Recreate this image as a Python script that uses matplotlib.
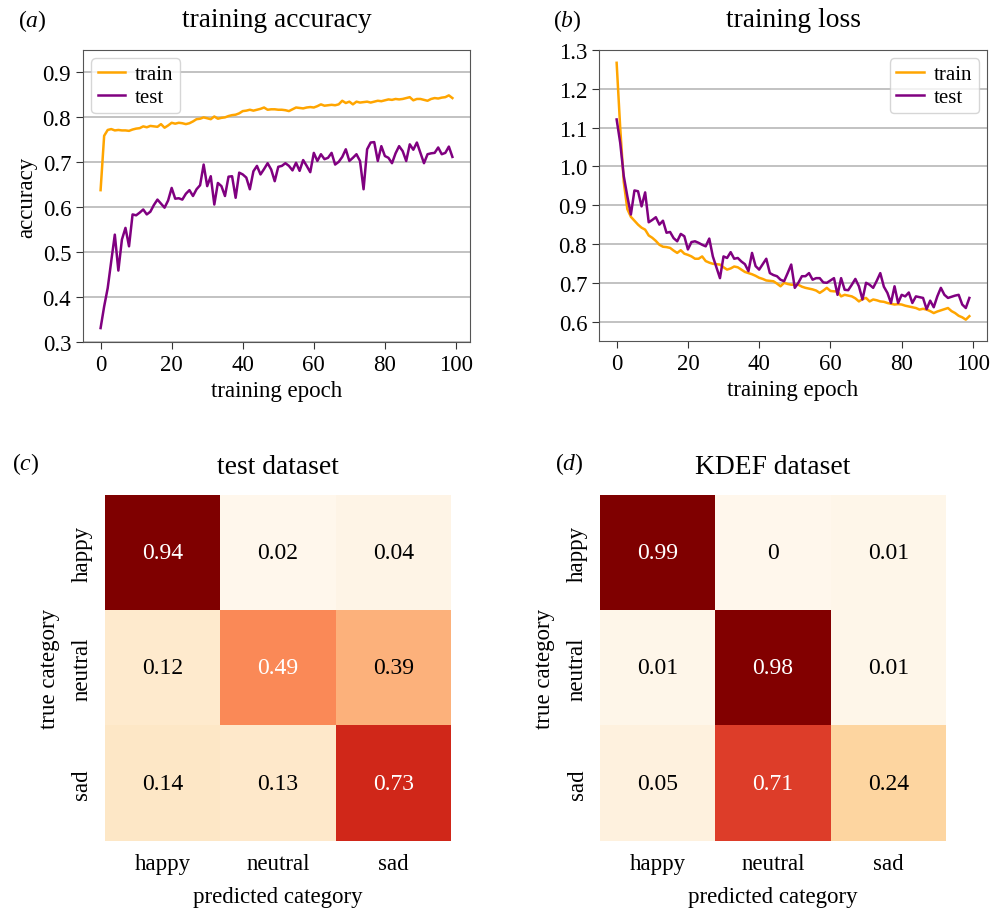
import matplotlib
matplotlib.use("Agg")
import matplotlib.pyplot as plt
import numpy as np

plt.rcParams['font.family'] = ['Liberation Serif', 'DejaVu Serif']
plt.rcParams['mathtext.fontset'] = 'custom'
plt.rcParams['mathtext.rm'] = 'Liberation Serif'
plt.rcParams['mathtext.it'] = 'Liberation Serif:italic'
plt.rcParams['font.size'] = 16.5

# training curves, one value per epoch
epochs = list(range(100))

train_acc = [0.638, 0.759, 0.772, 0.774, 0.771, 0.772, 0.771, 0.771, 0.770, 0.773,
             0.775, 0.776, 0.780, 0.778, 0.781, 0.780, 0.779, 0.785, 0.777, 0.782,
             0.788, 0.786, 0.788, 0.787, 0.785, 0.787, 0.791, 0.796, 0.797, 0.800,
             0.798, 0.796, 0.802, 0.797, 0.799, 0.800, 0.803, 0.805, 0.806, 0.809,
             0.814, 0.815, 0.817, 0.815, 0.817, 0.819, 0.822, 0.817, 0.818, 0.818,
             0.817, 0.817, 0.816, 0.814, 0.818, 0.822, 0.821, 0.820, 0.822, 0.823,
             0.822, 0.825, 0.829, 0.826, 0.827, 0.828, 0.827, 0.829, 0.837, 0.832,
             0.835, 0.829, 0.835, 0.833, 0.834, 0.835, 0.833, 0.835, 0.837, 0.836,
             0.838, 0.840, 0.839, 0.841, 0.840, 0.841, 0.843, 0.845, 0.838, 0.841,
             0.841, 0.839, 0.837, 0.841, 0.843, 0.842, 0.844, 0.845, 0.849, 0.843]

test_acc = [0.331, 0.379, 0.420, 0.480, 0.539, 0.459, 0.528, 0.554, 0.513, 0.584,
            0.582, 0.588, 0.595, 0.584, 0.590, 0.605, 0.617, 0.608, 0.599, 0.615,
            0.643, 0.619, 0.620, 0.617, 0.630, 0.638, 0.625, 0.640, 0.649, 0.695,
            0.647, 0.669, 0.606, 0.654, 0.647, 0.625, 0.668, 0.669, 0.621, 0.677,
            0.673, 0.666, 0.640, 0.680, 0.692, 0.673, 0.685, 0.698, 0.684, 0.658,
            0.690, 0.692, 0.698, 0.692, 0.682, 0.699, 0.681, 0.705, 0.692, 0.678,
            0.721, 0.703, 0.718, 0.707, 0.710, 0.721, 0.695, 0.701, 0.712, 0.729,
            0.703, 0.710, 0.718, 0.703, 0.640, 0.729, 0.744, 0.745, 0.703, 0.736,
            0.714, 0.710, 0.698, 0.720, 0.736, 0.725, 0.703, 0.740, 0.728, 0.744,
            0.721, 0.698, 0.718, 0.720, 0.721, 0.733, 0.718, 0.721, 0.735, 0.712]

train_loss = [1.267, 1.100, 0.960, 0.890, 0.870, 0.860, 0.850, 0.842, 0.837, 0.822,
              0.816, 0.808, 0.798, 0.793, 0.792, 0.790, 0.783, 0.777, 0.784, 0.775,
              0.772, 0.768, 0.762, 0.762, 0.768, 0.756, 0.752, 0.749, 0.748, 0.747,
              0.740, 0.734, 0.737, 0.742, 0.740, 0.734, 0.728, 0.725, 0.722, 0.718,
              0.713, 0.710, 0.706, 0.705, 0.704, 0.698, 0.691, 0.700, 0.697, 0.695,
              0.695, 0.695, 0.690, 0.687, 0.685, 0.683, 0.680, 0.674, 0.680, 0.687,
              0.679, 0.678, 0.678, 0.665, 0.669, 0.667, 0.665, 0.660, 0.652, 0.658,
              0.661, 0.652, 0.657, 0.655, 0.652, 0.651, 0.648, 0.646, 0.644, 0.645,
              0.644, 0.641, 0.639, 0.637, 0.635, 0.631, 0.633, 0.631, 0.627, 0.622,
              0.626, 0.629, 0.632, 0.635, 0.627, 0.622, 0.615, 0.611, 0.605, 0.614]

test_loss = [1.121, 1.061, 0.975, 0.923, 0.876, 0.938, 0.936, 0.897, 0.933, 0.856,
             0.862, 0.869, 0.850, 0.860, 0.829, 0.831, 0.815, 0.807, 0.826, 0.820,
             0.786, 0.805, 0.807, 0.803, 0.798, 0.794, 0.814, 0.768, 0.740, 0.712,
             0.768, 0.764, 0.779, 0.762, 0.764, 0.755, 0.748, 0.730, 0.777, 0.743,
             0.734, 0.748, 0.762, 0.725, 0.720, 0.717, 0.708, 0.704, 0.725, 0.747,
             0.687, 0.700, 0.717, 0.717, 0.725, 0.708, 0.712, 0.712, 0.701, 0.700,
             0.706, 0.712, 0.669, 0.712, 0.682, 0.681, 0.695, 0.710, 0.691, 0.657,
             0.700, 0.695, 0.687, 0.705, 0.725, 0.690, 0.674, 0.648, 0.691, 0.648,
             0.669, 0.665, 0.675, 0.648, 0.665, 0.663, 0.661, 0.632, 0.654, 0.637,
             0.665, 0.687, 0.669, 0.661, 0.664, 0.667, 0.669, 0.644, 0.635, 0.661]

# confusion matrices (rows: true, cols: predicted)
categories = ['happy', 'neutral', 'sad']
cm_test = [[0.94, 0.02, 0.04],
           [0.12, 0.49, 0.39],
           [0.14, 0.13, 0.73]]
cm_kdef = [[0.99, 0.00, 0.01],
           [0.01, 0.98, 0.01],
           [0.05, 0.71, 0.24]]

W, H = 992, 912
fig = plt.figure(figsize=(W / 100, H / 100), dpi=100)


def box(l, t, r, b):
    return [l / W, 1 - b / H, (r - l) / W, (b - t) / H]


def style_line_ax(ax):
    ax.yaxis.grid(True, color='#bdbdbd', linewidth=1.3)
    ax.set_axisbelow(True)
    for s in ax.spines.values():
        s.set_color('#555555')
    ax.tick_params(colors='#333333', labelcolor='black', length=5)
    ax.set_xticks([0, 20, 40, 60, 80, 100])


leg_kw = dict(fontsize=15, handlelength=1.3, handletextpad=0.5,
              labelspacing=0.15, borderpad=0.3, borderaxespad=0.4)

# (a) accuracy
ax1 = fig.add_axes(box(83, 51, 470, 343))
ax1.plot(epochs, train_acc, color='orange', lw=1.8, label='train')
ax1.plot(epochs, test_acc, color='purple', lw=1.8, label='test')
ax1.set_ylim(0.3, 0.95)
ax1.set_yticks([0.3, 0.4, 0.5, 0.6, 0.7, 0.8, 0.9])
style_line_ax(ax1)
ax1.set_xlabel('training epoch')
ax1.set_ylabel('accuracy')
ax1.set_title('training accuracy', pad=17)
ax1.legend(loc='upper left', **leg_kw)

# (b) loss
ax2 = fig.add_axes(box(599, 51, 987, 342))
ax2.plot(epochs, train_loss, color='orange', lw=1.8, label='train')
ax2.plot(epochs, test_loss, color='purple', lw=1.8, label='test')
ax2.set_ylim(0.55, 1.3)
ax2.set_yticks([0.6, 0.7, 0.8, 0.9, 1.0, 1.1, 1.2, 1.3])
style_line_ax(ax2)
ax2.set_xlabel('training epoch')
ax2.set_title('training loss', pad=17)
ax2.legend(loc='upper right', **leg_kw)


def heat(ax, cm, title):
    data = np.array(cm)
    ax.imshow(data, cmap='OrRd', aspect='auto')
    for i in range(3):
        for j in range(3):
            v = data[i, j]
            ax.text(j, i, '{:.2g}'.format(v), ha='center', va='center',
                    color='white' if v > 0.45 else 'black', fontsize=17)
    ax.set_xticks(range(3))
    ax.set_yticks(range(3))
    ax.set_xticklabels(categories)
    ax.set_yticklabels(categories, rotation=90, va='center')
    ax.tick_params(length=0, pad=9)
    for s in ax.spines.values():
        s.set_visible(False)
    ax.set_xlabel('predicted category', labelpad=8)
    ax.set_ylabel('true category', labelpad=8)
    ax.set_title(title, pad=16)


ax3 = fig.add_axes(box(105, 496, 451, 842))
heat(ax3, cm_test, 'test dataset')
ax4 = fig.add_axes(box(600, 496, 946, 842))
heat(ax4, cm_kdef, 'KDEF dataset')

# panel letters
fig.text(18 / W, 1 - 27 / H, r'($\mathit{a}$)', fontsize=17)
fig.text(553 / W, 1 - 27 / H, r'($\mathit{b}$)', fontsize=17)
fig.text(12 / W, 1 - 470 / H, r'($\mathit{c}$)', fontsize=17)
fig.text(555 / W, 1 - 470 / H, r'($\mathit{d}$)', fontsize=17)

fig.savefig('out.png', dpi=100)
